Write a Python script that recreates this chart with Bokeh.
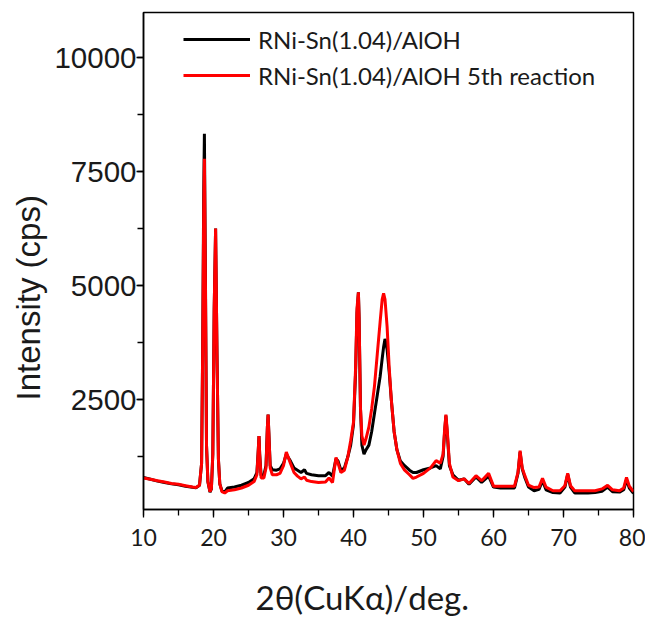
from bokeh.plotting import figure
from bokeh.models import (ColumnDataSource, SingleIntervalTicker, FixedTicker, Range1d, Legend,
                          LegendItem, Title, LinearAxis)
from bokeh.embed import file_html
from bokeh.resources import INLINE

# 2theta (deg) sample positions
two_theta = [10, 11, 12, 13, 14, 15, 16, 17, 17.5, 18.0, 18.3, 18.45, 18.6, 18.7, 18.85, 19.0, 19.2, 19.5,
             19.7, 19.9, 20.1, 20.3, 20.5, 20.7, 20.9, 21.2, 21.6, 22, 23, 24, 25, 25.8, 26.2, 26.4,
             26.5, 26.6, 26.8, 27.2, 27.5, 27.7, 27.8, 27.9, 28.1, 28.4, 29, 29.5, 30, 30.4, 31, 31.5,
             32, 32.5, 33, 33.3, 34, 35, 36, 36.5, 37, 37.5, 37.8, 38.2, 38.7, 39.2, 39.6, 40, 40.3,
             40.5, 40.7, 40.8, 41.0, 41.2, 41.5, 41.8, 42.2, 42.6, 43, 43.4, 43.8, 44.1, 44.3, 44.5,
             44.8, 45.1, 45.4, 45.8, 46.2, 46.7, 47.3, 48, 48.5, 49, 50, 51, 51.8, 52.4, 52.8, 53.0,
             53.2, 53.4, 53.7, 54.2, 55, 55.8, 56.5, 57.5, 58.3, 59.3, 60, 61, 62, 63, 63.5, 63.8,
             64.1, 64.5, 65, 65.8, 66.5, 67, 67.5, 68.5, 69.5, 70.2, 70.6, 71, 71.6, 72.5, 73.5, 74.5,
             75.5, 76.3, 77, 78, 78.6, 79, 79.4, 80]

# Intensity (cps), fresh catalyst (black)
fresh = [790, 750, 710, 680, 650, 630, 600, 575, 565, 620, 1100, 3600, 7000, 8330, 5200, 1500, 700, 470,
         540, 1300, 4500, 6250, 3500, 1200, 650, 500, 470, 560, 580, 620, 680, 760, 900, 1400,
         1700, 1300, 830, 850, 1050, 1900, 2170, 1800, 1050, 960, 950, 980, 1100, 1300, 1150, 1000,
         950, 900, 960, 880, 850, 830, 830, 900, 820, 1200, 1150, 950, 1000, 1250, 1500, 1950, 3100,
         4400, 4850, 4300, 2300, 1500, 1300, 1400, 1500, 1800, 2200, 2600, 3000, 3400, 3650, 3830,
         3600, 3100, 2500, 1800, 1400, 1150, 1050, 950, 900, 900, 960, 1000, 1050, 980, 1250, 1750,
         2150, 1750, 1050, 850, 730, 760, 640, 800, 680, 820, 580, 560, 560, 560, 880, 1350,
         980, 780, 580, 500, 530, 720, 520, 460, 450, 580, 860, 580, 450, 450, 450, 460,
         490, 580, 480, 470, 520, 740, 560, 440]

# Intensity (cps), catalyst after 5th reaction (red)
reacted = [780, 750, 720, 690, 660, 640, 610, 580, 570, 620, 1100, 3500, 6600, 7780, 5000, 1500, 700, 480,
           550, 1300, 4500, 6250, 3500, 1200, 650, 480, 450, 500, 520, 560, 620, 700, 850, 1400,
           1700, 1300, 780, 780, 1000, 1900, 2170, 1800, 1000, 850, 850, 880, 1050, 1350, 1100, 900,
           820, 760, 800, 730, 700, 680, 690, 780, 680, 1230, 1100, 900, 950, 1250, 1600, 2000, 3200,
           4500, 4850, 4300, 2300, 1700, 1500, 1650, 1900, 2300, 2800, 3500, 4200, 4700, 4830, 4700,
           4100, 3200, 2500, 1800, 1400, 1100, 950, 850, 770, 800, 880, 1000, 1160, 1100, 1300, 1800,
           2170, 1800, 1100, 800, 720, 760, 660, 830, 720, 880, 600, 600, 600, 600, 900, 1380,
           1000, 820, 620, 570, 580, 770, 580, 500, 500, 610, 880, 610, 500, 500, 500, 500,
           540, 620, 520, 500, 560, 790, 600, 480]

series_labels = ["RNi-Sn(1.04)/AlOH", "RNi-Sn(1.04)/AlOH 5th reaction"]
x_title_text = "2θ(CuKα)/deg."
y_title_text = "Intensity (cps)"
x_ticks_interval = 10
y_ticks_interval = 2500

source = ColumnDataSource(data=dict(x=two_theta, fresh=fresh, reacted=reacted))

p = figure(width=645, height=618, output_backend="svg", toolbar_location=None,
           x_range=Range1d(10, 80), y_range=Range1d(88, 10990),
           min_border_left=143, min_border_right=12, min_border_top=12, min_border_bottom=109)

r_black = p.line("x", "fresh", source=source, line_color="#000000", line_width=3)
r_red = p.line("x", "reacted", source=source, line_color="#ff0000", line_width=3)

legend = Legend(items=[LegendItem(label=series_labels[0], renderers=[r_black]),
                       LegendItem(label=series_labels[1], renderers=[r_red])],
                location=(40, 416), margin=0, padding=0, spacing=0,
                glyph_width=67, glyph_height=36, label_height=36, label_standoff=8,
                label_text_font="Lato", label_text_font_size="24px", label_text_color="#1a1a1a",
                background_fill_alpha=0, border_line_alpha=0)
p.add_layout(legend, "center")

p.grid.visible = False
p.outline_line_color = "#000000"
p.outline_line_width = 1.5
p.background_fill_color = "white"
p.border_fill_color = "white"

p.xaxis.ticker = SingleIntervalTicker(interval=x_ticks_interval, num_minor_ticks=2)
p.yaxis.ticker = SingleIntervalTicker(interval=y_ticks_interval, num_minor_ticks=2)

for ax in (p.xaxis[0], p.yaxis[0]):
    ax.axis_line_color = "#000000"
    ax.axis_line_width = 1.5
    ax.major_tick_line_color = "#000000"
    ax.minor_tick_line_color = "#000000"
    ax.major_tick_line_width = 1.3
    ax.minor_tick_line_width = 1.3
    ax.major_tick_in = 0
    ax.minor_tick_in = 0
    ax.minor_tick_out = 6
    ax.major_label_text_color = "#1a1a1a"

p.xaxis.major_tick_out = 8
p.xaxis.major_label_text_font = "Lato"
p.xaxis.major_label_text_font_size = "23px"
p.xaxis.major_label_standoff = 11

p.yaxis.major_tick_out = 7
p.yaxis.major_label_text_font = "Liberation Sans"
p.yaxis.major_label_text_font_size = "29.5px"
p.yaxis.major_label_standoff = 0

# invisible spacer axis below the x axis to push the x title down
spacer = LinearAxis(ticker=FixedTicker(ticks=[45]), major_label_overrides={45: ""},
                    axis_line_alpha=0, major_tick_line_alpha=0, minor_tick_line_alpha=0,
                    major_tick_in=0, major_tick_out=27, minor_tick_in=0, minor_tick_out=0,
                    major_label_standoff=0, major_label_text_font_size="1px")
p.add_layout(spacer, "below")

x_title = Title(text=x_title_text, align="left", offset=112, standoff=0, vertical_align="middle",
                text_font="Lato", text_font_size="33px", text_font_style="normal",
                text_color="#1a1a1a")
p.add_layout(x_title, "below")

y_title = Title(text=y_title_text, align="left", offset=109, standoff=8, vertical_align="middle",
                text_font="Liberation Sans", text_font_size="33px", text_font_style="normal",
                text_color="#1a1a1a")
p.add_layout(y_title, "left")

open("out.html", "w").write(file_html(p, INLINE))
